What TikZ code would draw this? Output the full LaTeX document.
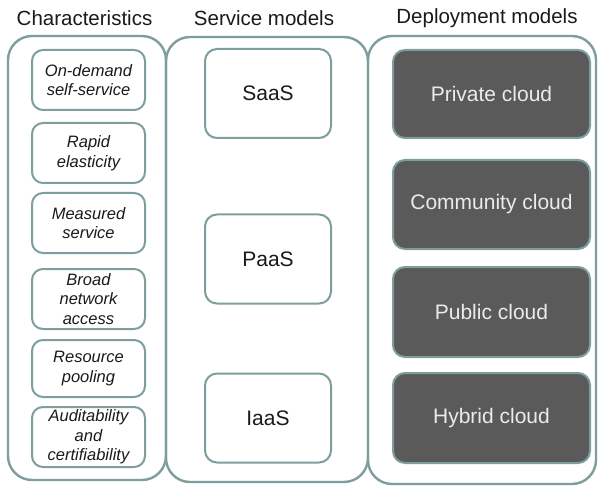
\documentclass[tikz,border=0pt]{standalone}
\usepackage{fontspec}
\setmainfont{Liberation Sans}
\definecolor{bord}{HTML}{7E9E9E}
\definecolor{darkfill}{HTML}{5A5A5A}
\definecolor{txt}{HTML}{1A1A1A}
\begin{document}
\begin{tikzpicture}[x=1pt,y=-1pt,
  outerbox/.style={draw=bord,line width=2.4pt,rounded corners=24pt},
  charbox/.style={draw=bord,line width=2pt,rounded corners=11pt,minimum width=113pt,
     align=center,text=txt,font=\fontsize{16.5}{19.5}\selectfont\itshape,inner sep=0pt},
  servbox/.style={draw=bord,line width=2pt,rounded corners=12pt,minimum width=126pt,minimum height=89pt,
     text=txt,font=\fontsize{21}{25}\selectfont,inner sep=0pt},
  depbox/.style={draw=bord,fill=darkfill,line width=2pt,rounded corners=12pt,minimum width=197pt,minimum height=89pt,
     text=white!92!black,font=\fontsize{21}{25}\selectfont,inner sep=0pt},
  title/.style={text=txt,font=\fontsize{20.5}{24}\selectfont,inner sep=0pt}]
\useasboundingbox (0,0) rectangle (599,486);
\fill[white] (0,0) rectangle (599,486);
% outer columns
\draw[outerbox] (8,36) rectangle (166,480);
\draw[outerbox] (166,37) rectangle (368,482);
\draw[outerbox] (368,36) rectangle (596,484);
% titles
\node[title] (tc) at (84.5,18) {Characteristics};
\node[title] (ts) at (264,18) {Service models};
\node[title] (td) at (487,18) {Deployment models};
% characteristics
\node[charbox,minimum height=60pt] (c1) at (88.5,80) {On-demand\\self-service};
\node[charbox,minimum height=60pt] (c2) at (88.5,153) {Rapid\\elasticity};
\node[charbox,minimum height=60pt] (c3) at (88.5,223) {Measured\\service};
\node[charbox,minimum height=60pt] (c4) at (88.5,299) {Broad\\network\\access};
\node[charbox,minimum height=57pt] (c5) at (88.5,368.5) {Resource\\pooling};
\node[charbox,minimum height=60pt] (c6) at (88.5,437) {Auditability\\and\\certifiability};
% service models
\node[servbox] (s1) at (268,93.5) {SaaS};
\node[servbox] (s2) at (268,259) {PaaS};
\node[servbox] (s3) at (268,418) {IaaS};
% deployment models
\node[depbox,minimum height=88pt] (d1) at (491.5,94) {Private cloud};
\node[depbox] (d2) at (491.5,204.5) {Community cloud};
\node[depbox,minimum height=90pt] (d3) at (491.5,312) {Public cloud};
\node[depbox,minimum height=90pt] (d4) at (491.5,418) {Hybrid cloud};
\end{tikzpicture}
\end{document}
